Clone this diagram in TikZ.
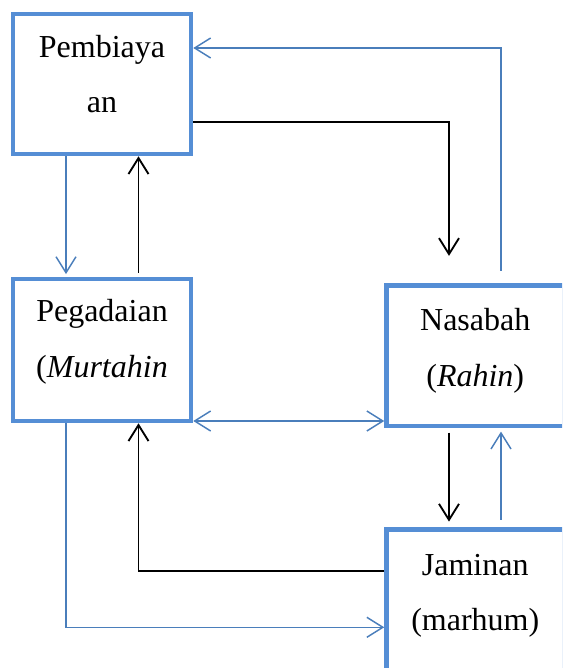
\documentclass[tikz,border=0pt]{standalone}
\usepackage{fontspec}
\setmainfont{Liberation Serif}
\usetikzlibrary{arrows.meta}
\definecolor{boxblue}{RGB}{85,142,213}
\definecolor{lineblue}{RGB}{74,126,187}
\begin{document}
\begin{tikzpicture}[x=0.75pt,y=-0.75pt,
  box/.style={draw=boxblue,line width=3.4pt,rectangle,inner sep=0pt,
    minimum width=133.5pt,font=\fontsize{24}{41.5}\selectfont,text height=0pt},
  tip/.style={-{Straight Barb[length=12pt,width=15pt]}},
  bl/.style={draw=lineblue,line width=1.1pt,tip},
  bk/.style={draw=black,line width=1.4pt,tip}]
\useasboundingbox (0,0) rectangle (562,668);
\clip (0,0) rectangle (562,668);
\node[box,minimum height=105pt,text depth=40.5pt] (pem) at (102,84)
  {\begin{tabular}[t]{@{}c@{}}Pembiaya\\an\end{tabular}};
\node[box,minimum height=106.5pt,text depth=42.5pt] (peg) at (102,350)
  {\begin{tabular}[t]{@{}c@{}}Pegadaian\\(\textit{Murtahin}\end{tabular}};
\node[box,minimum height=105.4pt,minimum width=133.1pt,text depth=37.5pt] (nas) at (475.25,355.75)
  {\begin{tabular}[t]{@{}c@{}}Nasabah\\(\textit{Rahin})\end{tabular}};
\node[box,minimum height=106.5pt,minimum width=133.1pt,text depth=38.25pt] (jam) at (475.25,600.5)
  {\begin{tabular}[t]{@{}c@{}}Jaminan\\(marhum)\end{tabular}};
% helper coordinates
\coordinate (xa) at (66,0);
\coordinate (xb) at (138.5,0);
\coordinate (c1) at (449,121.7);
\coordinate (c4) at (501,48);
\coordinate (c5) at (0,421);
\coordinate (c6) at (66,627.3);
\coordinate (c7) at (138.5,571);
% connectors
\draw[bl,shorten >=2pt] (pem.south -| xa) -- (peg.north -| xa);
\draw[bk,shorten <=3pt] (peg.north -| xb) -- (pem.south -| xb);
\draw[bk,shorten >=20.5pt] (c1 -| pem.east) -- (c1) -- (nas.north -| c1);
\draw[bl,shorten <=9.5pt] (nas.north -| c4) -- (c4) -- (c4 -| pem.east);
\draw[draw=lineblue,line width=1.1pt,{Straight Barb[length=12pt,width=15pt]}-{Straight Barb[length=12pt,width=15pt]}] (c5 -| peg.east) -- (c5 -| nas.west);
\draw[bl] (peg.south -| c6) -- (c6) -- (c6 -| jam.west);
\draw[bk] (c7 -| jam.west) -- (c7) -- (peg.south -| c7);
\draw[bk,shorten <=3.3pt,shorten >=4.2pt] (nas.south -| c1) -- (jam.north -| c1);
\draw[bl,shorten <=5.5pt,shorten >=2.5pt] (jam.north -| c4) -- (nas.south -| c4);
\end{tikzpicture}
\end{document}
